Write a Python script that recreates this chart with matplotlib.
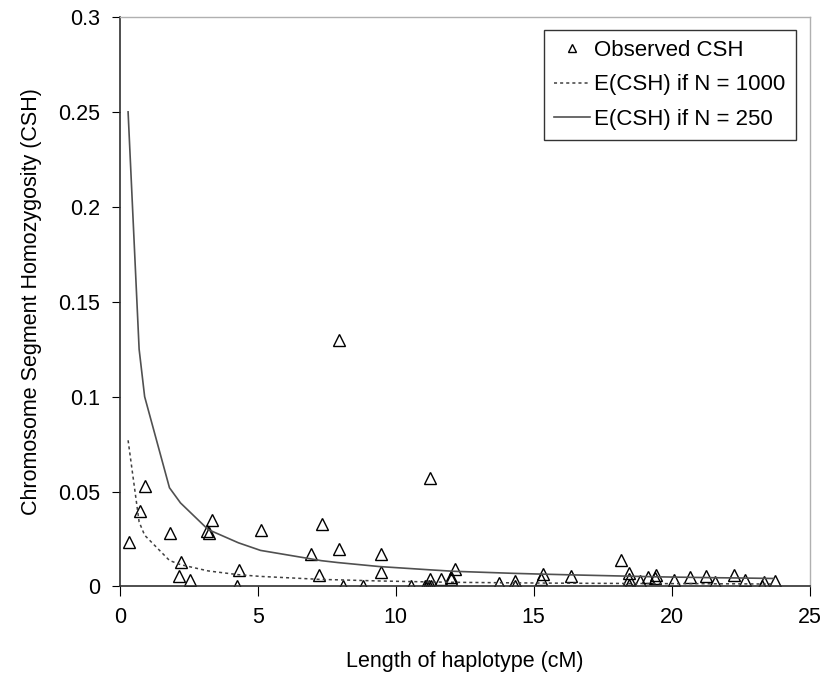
import numpy as np
import matplotlib
matplotlib.use("Agg")
import matplotlib.pyplot as plt
from matplotlib.ticker import FuncFormatter

plt.rcParams['font.family'] = ['Liberation Sans', 'DejaVu Sans']

# observed CSH points
obs_x = [0.32, 0.72, 0.93, 1.81, 2.20, 2.14, 2.54, 3.35, 3.15, 3.23,
         4.32, 4.24, 5.13, 6.93, 7.32, 7.23, 7.93, 7.93, 8.08, 8.80,
         9.45, 9.45, 10.56, 11.05, 11.12, 11.20, 11.28, 11.23, 11.23, 11.63,
         12.00, 12.00, 12.14, 13.74, 14.32, 14.32, 15.27, 15.35, 16.36, 18.16,
         18.44, 18.44, 18.44, 18.87, 19.15, 19.44, 19.40, 20.08, 20.65, 21.25,
         21.56, 22.26, 22.66, 23.27, 23.35, 23.75]
obs_y = [0.0234, 0.040, 0.053, 0.028, 0.0128, 0.0053, 0.0032, 0.035, 0.029, 0.028,
         0.0088, 0.0, 0.030, 0.0169, 0.0327, 0.0063, 0.0199, 0.130, 0.0, 0.0,
         0.0169, 0.0076, 0.0, 0.0005, 0.0005, 0.0005, 0.0005, 0.004, 0.057, 0.004,
         0.004, 0.005, 0.0093, 0.0018, 0.0028, 0.0, 0.004, 0.0067, 0.0053, 0.0137,
         0.007, 0.004, 0.001, 0.0028, 0.0049, 0.0058, 0.0045, 0.0035, 0.005, 0.0053,
         0.0023, 0.0058, 0.0035, 0.0005, 0.0023, 0.0028]

# expected curves
exp_x = [0.3, 0.7, 0.9, 1.8, 2.2, 3.2, 4.3, 5.1, 6.9, 7.3, 7.9, 9.4,
         11.2, 12.1, 14.3, 15.3, 16.4, 18.2, 19.4, 20.7, 21.6, 22.3, 23.3, 23.7]
exp_n250 = [0.25, 0.125, 0.10, 0.052, 0.044, 0.030, 0.023, 0.019, 0.0146, 0.0136,
            0.0126, 0.0105, 0.0088, 0.0080, 0.0069, 0.0065, 0.0061, 0.0055,
            0.0051, 0.0048, 0.0046, 0.0045, 0.0043, 0.0042]
exp_n1000 = [0.077, 0.034, 0.027, 0.0137, 0.0115, 0.0082, 0.0062, 0.0053, 0.0040,
             0.0037, 0.0035, 0.0029, 0.0024, 0.0022, 0.0019, 0.0018, 0.0017,
             0.0016, 0.0015, 0.0015, 0.0014, 0.0014, 0.0013, 0.0013]

fig = plt.figure(figsize=(8.32, 6.78), dpi=100)
ax = fig.add_axes([0.144, 0.135, 0.829, 0.840])

ax.plot(obs_x, obs_y, linestyle='none', marker='^', markersize=9,
        markerfacecolor='none', markeredgecolor='black', markeredgewidth=1.0,
        label='Observed CSH')
ax.plot(exp_x, exp_n1000, linestyle=(0, (2, 2)), color='#404040', linewidth=1.1,
        label='E(CSH) if N = 1000')
ax.plot(exp_x, exp_n250, linestyle='-', color='#505050', linewidth=1.2,
        label='E(CSH) if N = 250')

ax.set_xlim(0, 25)
ax.set_ylim(0, 0.3)
ax.set_xticks([0, 5, 10, 15, 20, 25])
ax.set_yticks([0, 0.05, 0.1, 0.15, 0.2, 0.25, 0.3])
ax.yaxis.set_major_formatter(FuncFormatter(lambda v, p: '%g' % round(v, 2)))
ax.tick_params(axis='both', direction='out', labelsize=15.5, colors='black')
ax.tick_params(axis='x', length=7, pad=8)
ax.tick_params(axis='y', length=6, pad=8)

for s in ['left', 'bottom']:
    ax.spines[s].set_color('#303030')
    ax.spines[s].set_linewidth(1.2)
for s in ['top', 'right']:
    ax.spines[s].set_color('#b0b0b0')
    ax.spines[s].set_linewidth(1.0)

ax.set_xlabel('Length of haplotype (cM)', fontsize=15.5, labelpad=16)
ax.set_ylabel('Chromosome Segment Homozygosity (CSH)', fontsize=15.5, labelpad=12)

leg = ax.legend(loc='upper right', bbox_to_anchor=(0.98, 0.977), fontsize=16,
                frameon=True, fancybox=False, edgecolor='black',
                handlelength=1.6, handletextpad=0.2, borderpad=0.45,
                borderaxespad=0.0, labelspacing=0.6, markerscale=0.6)
leg.get_frame().set_linewidth(1.0)
leg._legend_box.sep = 0

fig.savefig('out.png', dpi=100)
